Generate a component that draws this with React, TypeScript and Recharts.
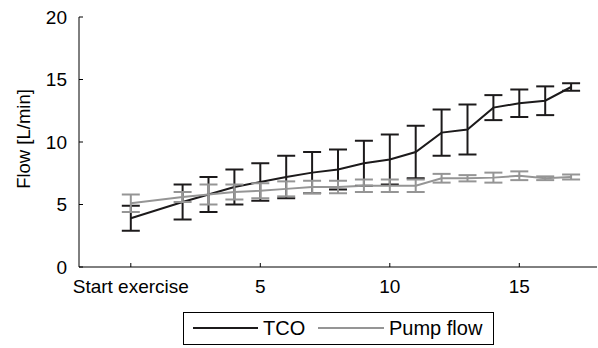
import { CartesianGrid, ErrorBar, Line, LineChart, XAxis, YAxis } from "recharts";

// minutes after start of exercise (0 = "Start exercise")
const time = [0, 2, 3, 4, 5, 6, 7, 8, 9, 10, 11, 12, 13, 14, 15, 16, 17];
const tco = [3.9, 5.2, 5.8, 6.4, 6.8, 7.2, 7.55, 7.8, 8.3, 8.6, 9.2, 10.75, 11.0, 12.75, 13.1, 13.3, 14.4];
const tcoErr = [1.0, 1.4, 1.4, 1.4, 1.5, 1.7, 1.65, 1.6, 1.8, 2.0, 2.1, 1.85, 2.0, 1.0, 1.1, 1.15, 0.3];
const pump = [5.1, 5.6, 5.8, 6.0, 6.1, 6.25, 6.4, 6.4, 6.5, 6.5, 6.5, 7.1, 7.1, 7.15, 7.3, 7.1, 7.2];
const pumpErr = [0.7, 0.4, 0.8, 0.6, 0.6, 0.6, 0.5, 0.5, 0.5, 0.5, 0.5, 0.35, 0.25, 0.4, 0.35, 0.15, 0.2];

const xTicks = [0, 5, 10, 15];
const yTicks = [0, 5, 10, 15, 20];

const BLACK = "#1c1a1b";
const GRAY = "#959595";
const FONT = "'Liberation Sans', Arial, sans-serif";

const data = time.map((t, i) => ({
  t,
  tco: tco[i],
  tcoErr: tcoErr[i],
  pump: pump[i],
  pumpErr: pumpErr[i],
}));

const tickStyle = { fill: "#000", fontSize: 19, fontFamily: FONT };

function YLabel({ viewBox }: any) {
  const cy = viewBox.y + viewBox.height / 2 - 3;
  return (
    <text
      x={30}
      y={cy}
      transform={`rotate(-90, 30, ${cy})`}
      textAnchor="middle"
      fontSize={18.5}
      fontFamily={FONT}
      fill="#000"
    >
      Flow [L/min]
    </text>
  );
}

export default function App() {
  return (
    <div style={{ position: "absolute", left: 0, top: 0, width: 598, height: 348, background: "#fff" }}>
      <LineChart
        width={598}
        height={348}
        data={data}
        margin={{ top: 17, right: 1, bottom: 51, left: 0 }}
      >
        <CartesianGrid stroke="none" />
        <XAxis
          dataKey="t"
          type="number"
          domain={[-2, 18]}
          ticks={xTicks}
          tickFormatter={(v: number) => (v === 0 ? "Start exercise" : String(v))}
          stroke="#000"
          tickSize={-4}
          tickMargin={17}
          height={30}
          tick={tickStyle}
          interval={0}
        />
        <YAxis
          type="number"
          domain={[0, 20]}
          ticks={yTicks}
          stroke="#000"
          tickSize={-4}
          tickMargin={16}
          width={79}
          tick={tickStyle}
          label={<YLabel />}
        />
        <Line
          dataKey="tco"
          stroke={BLACK}
          strokeWidth={2}
          dot={false}
          isAnimationActive={false}
        >
          <ErrorBar dataKey="tcoErr" direction="y" width={9} stroke={BLACK} strokeWidth={2} isAnimationActive={false} />
        </Line>
        <Line
          dataKey="pump"
          stroke={GRAY}
          strokeWidth={2}
          dot={false}
          isAnimationActive={false}
        >
          <ErrorBar dataKey="pumpErr" direction="y" width={9} stroke={GRAY} strokeWidth={2} isAnimationActive={false} />
        </Line>
      </LineChart>
      <div
        style={{
          position: "absolute",
          left: 183,
          top: 312,
          width: 311,
          height: 33,
          border: "1px solid #000",
          fontFamily: FONT,
          fontSize: 20,
          color: "#000",
          boxSizing: "border-box",
        }}
      >
        <span style={{ position: "absolute", left: 9, top: 14, width: 65, height: 2, background: BLACK }} />
        <span style={{ position: "absolute", left: 79, top: 5, lineHeight: "20px" }}>TCO</span>
        <span style={{ position: "absolute", left: 134, top: 14, width: 66, height: 2, background: GRAY }} />
        <span style={{ position: "absolute", left: 205, top: 5, lineHeight: "20px" }}>Pump flow</span>
      </div>
    </div>
  );
}
